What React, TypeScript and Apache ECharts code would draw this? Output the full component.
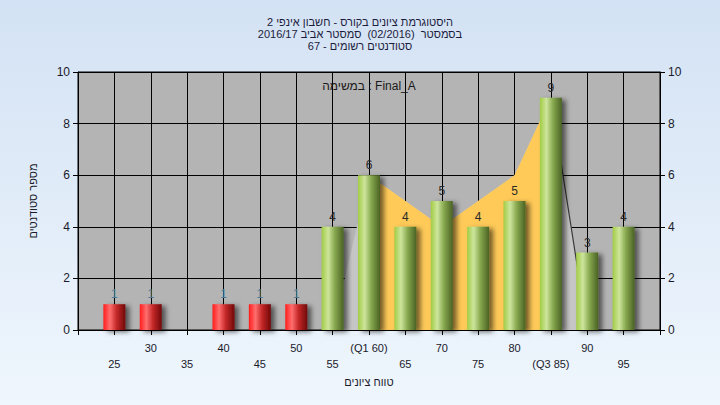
import React, { useEffect, useRef } from "react";
import * as echarts from "echarts";

const categories = ["20", "25", "30", "35", "40", "45", "50", "55", "60", "65", "70", "75", "80", "85", "90", "95", "100"];
const tickLabels = ["", "25", "30", "35", "40", "45", "50", "55", "(Q1 60)", "65", "70", "75", "80", "(Q3 85)", "90", "95", ""];
const counts = [0, 1, 1, 0, 1, 1, 1, 4, 6, 4, 5, 4, 5, 9, 3, 4, 0];
const failGrades = ["25", "30", "35", "40", "45", "50"];
const outlineArea = [null, null, null, null, null, null, null, 0, 6, 5, 4, 5, 6, 9, 0, 0, null];
const quartileArea = [null, null, null, null, null, null, null, null, 6, 5, 4, 5, 6, 9, null, null, null];
const outlineLine = [null, null, null, null, null, null, null, null, null, null, null, null, null, 9, 0, 0, null];
const yTicks = [0, 2, 4, 6, 8, 10];

const titleLines = [
  "היסטוגרמת ציונים בקורס - חשבון אינפי 2",
  "בסמסטר  (02/2016)  סמסטר אביב 2016/17",
  "סטודנטים רשומים - 67",
];
const taskText = "במשימה : Final_A";
const xName = "טווח ציונים";
const yName = "מספר סטודנטים";

const FONT = "Liberation Sans, DejaVu Sans, Arial, sans-serif";

const greenGrad = {
  type: "linear", x: 0, y: 0, x2: 1, y2: 0,
  colorStops: [
    { offset: 0, color: "#a2cc44" },
    { offset: 0.3, color: "#cde59c" },
    { offset: 0.6, color: "#87a84e" },
    { offset: 1, color: "#4a6224" },
  ],
};
const redGrad = {
  type: "linear", x: 0, y: 0, x2: 1, y2: 0,
  colorStops: [
    { offset: 0, color: "#ff1c1c" },
    { offset: 0.3, color: "#ff6e6e" },
    { offset: 0.6, color: "#c42828" },
    { offset: 1, color: "#700808" },
  ],
};

export default function App() {
  const ref = useRef<HTMLDivElement>(null);
  useEffect(() => {
    if (!ref.current) return;
    const chart = echarts.init(ref.current, undefined, { renderer: "svg" });
    const barData = counts.map((v, i) => {
      const fail = failGrades.includes(categories[i]);
      return {
        value: v,
        itemStyle: { color: fail ? redGrad : greenGrad },
        label: { color: fail ? "#4a7a98" : "#2a2a2a" },
      };
    });
    chart.setOption({
      animation: false,
      backgroundColor: {
        type: "linear", x: 0, y: 0, x2: 0, y2: 1,
        colorStops: [
          { offset: 0, color: "#d3e2f4" },
          { offset: 1, color: "#eff6fd" },
        ],
      },
      title: {
        text: titleLines.join("\n"),
        left: "center",
        top: 11,
        textStyle: { fontFamily: FONT, fontSize: 11, fontWeight: "normal", color: "#1c1c3c", lineHeight: 12 },
      },
      graphic: [
        {
          type: "text",
          x: 369,
          y: 86,
          z: 10,
          style: { text: taskText, fontFamily: FONT, fontSize: 12, fill: "#1a1a1a", textAlign: "center", textVerticalAlign: "middle" },
        },
      ],
      grid: {
        left: 78, right: 60, top: 72, bottom: 75,
        show: true, backgroundColor: "#b4b4b4", borderColor: "#000", borderWidth: 1,
      },
      xAxis: {
        type: "category",
        data: categories,
        boundaryGap: false,
        name: xName,
        nameLocation: "middle",
        nameGap: 46,
        nameTextStyle: { fontFamily: FONT, fontSize: 11, color: "#1a1a2a" },
        axisLine: { lineStyle: { color: "#000", width: 1 } },
        axisTick: { show: true, length: 5, interval: 0, lineStyle: { color: "#000" } },
        splitLine: { show: true, interval: 0, lineStyle: { color: "#000", width: 1 } },
        axisLabel: {
          interval: 0,
          margin: 10,
          fontFamily: FONT,
          fontSize: 11,
          color: "#1a1a2a",
          lineHeight: 16,
          formatter: (_v: string, i: number) => (i % 2 === 1 ? "\n" + tickLabels[i] : tickLabels[i]),
        },
      },
      yAxis: [
        {
          type: "value", min: yTicks[0], max: yTicks[yTicks.length - 1], interval: 2,
          name: yName, nameLocation: "middle", nameGap: 40,
          nameTextStyle: { fontFamily: FONT, fontSize: 11, color: "#1a1a2a" },
          axisLine: { show: true, lineStyle: { color: "#000" } },
          axisTick: { show: true, length: 5, lineStyle: { color: "#000" } },
          splitLine: { show: true, lineStyle: { color: "#000", width: 1 } },
          axisLabel: { fontFamily: FONT, fontSize: 12, color: "#1a1a2a", margin: 8 },
        },
        {
          type: "value", min: yTicks[0], max: yTicks[yTicks.length - 1], interval: 2, position: "right",
          axisLine: { show: true, lineStyle: { color: "#000" } },
          axisTick: { show: true, length: 5, lineStyle: { color: "#000" } },
          splitLine: { show: false },
          axisLabel: { fontFamily: FONT, fontSize: 12, color: "#1a1a2a", margin: 8 },
        },
      ],
      series: [
        {
          type: "line", data: outlineArea, showSymbol: false, symbol: "none", z: 1,
          lineStyle: { width: 0 }, areaStyle: { color: "#c6c6c6", opacity: 1 },
          silent: true,
        },
        {
          type: "line", data: quartileArea, showSymbol: false, symbol: "none", z: 1,
          lineStyle: { width: 0 }, areaStyle: { color: "#ffca58", opacity: 1 },
          silent: true,
        },
        {
          type: "line", data: outlineLine, showSymbol: false, symbol: "none", z: 1,
          lineStyle: { width: 1.2, color: "#3a3a3a" },
          silent: true,
        },
        {
          type: "bar",
          data: barData,
          barWidth: 22,
          z: 5,
          itemStyle: { shadowBlur: 5, shadowOffsetX: 4, shadowOffsetY: 2, shadowColor: "rgba(0,0,0,0.55)" },
          label: {
            show: true, position: "top", distance: 4, fontFamily: FONT, fontSize: 12,
            formatter: (p: any) => (p.value ? String(p.value) : ""),
          },
        },
      ],
    });
    return () => chart.dispose();
  }, []);
  return <div ref={ref} style={{ position: "fixed", left: 0, top: 0, width: 720, height: 405 }} />;
}
